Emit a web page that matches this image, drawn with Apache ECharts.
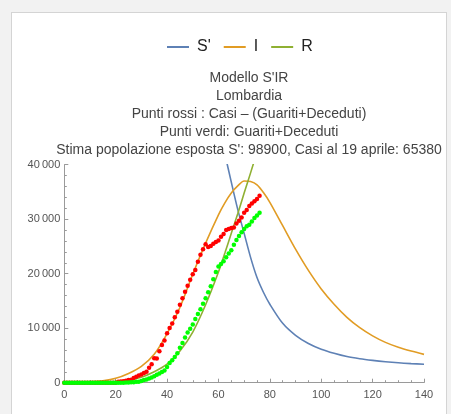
<!DOCTYPE html>
<html>
<head>
<meta charset="utf-8">
<script src="https://cdn.jsdelivr.net/npm/echarts@6/dist/echarts.min.js"></script>
<style>
html,body{margin:0;padding:0;background:#f2f2f2;width:451px;height:414px;overflow:hidden;}
#panel{position:absolute;left:11px;top:12px;width:436px;height:420px;background:#fff;border:1px solid #d4d4d4;box-sizing:border-box;}
#chart{position:absolute;left:0;top:0;width:451px;height:414px;}
</style>
</head>
<body>
<div id="panel"></div>
<div id="chart"></div>
<script>
// Model curves, t in days
const curveDays = [0,5,10,15,20,25,30,35,40,45,50,55,60,62.5,65,67.5,70,72.5,75,77.5,80,85,90,95,100,105,110,115,120,125,130,135,140];
const sValues = [98800,98700,98500,98200,97600,96400,94500,91500,86700,80000,71200,60500,47500,42000,36800,31800,27400,23000,19300,16600,14400,10900,8700,7200,6150,5400,4800,4400,4100,3850,3650,3500,3380];
const iValues = [20,60,150,350,800,1700,3000,5200,9000,13800,19900,25600,30800,33000,34800,36100,37000,36900,36300,34900,33100,28800,24500,20600,17200,14400,12000,10100,8600,7400,6500,5800,5200];
const rValues = [0,10,30,80,200,450,1000,2000,3400,5800,9300,14300,20300,23800,27400,31000,34800,38500,42300,46000,49500,57000,63500,69500,74500,78700,82000,84500,86200,87650,88750,89600,90300];

// Observed points, days 0..76
const pointDays = Array.from({length: 77}, (_, k) => k);
const redValues = [0,0,0,0,0,0,0,0,0,0,0,0,0,0,0,0,0,0,0,0,0,
  166,231,249,349,474,552,880,1077,1326,1497,1777,2008,2742,3372,4490,4427,5763,6896,7732,9059,
  10043,10861,12000,13000,14300,15500,16700,17800,18900,19900,20700,22200,23500,24500,25400,
  24900,25100,25500,25800,26100,26800,27300,28000,28200,28400,28500,29200,29700,30300,31200,
  31700,32400,32900,33300,33700,34300];
const greenValues = [0,0,0,0,0,0,0,0,0,0,0,0,0,0,0,0,0,0,0,0,0,
  6,9,9,54,57,63,104,177,194,323,474,604,750,950,1200,1450,1700,1950,2250,2900,
  3600,4100,4700,5400,6400,7300,8300,9200,9900,10700,11700,12600,13500,14500,15500,
  16600,17700,19000,20300,21300,21800,22300,23000,23700,24300,25300,26200,26900,27600,28200,
  28700,29000,29600,30200,30700,31200];

const xTicks = [0,20,40,60,80,100,120,140];
const yTicks = [0,10000,20000,30000,40000];
const titleLines = ["Modello S'IR","Lombardia","Punti rossi : Casi \u2013 (Guariti+Deceduti)","Punti verdi: Guariti+Deceduti","Stima popolazione esposta S': 98900, Casi al 19 aprile: 65380"];
const legendNames = ["S'","I","R"];

const pair = (xs, ys) => xs.map((x, k) => [x, ys[k]]);
const fmt = v => v >= 10000 ? String(v).replace(/(\d)(?=(\d{3})+$)/, '$1\u2009') : String(v);

const axisGray = '#9a9a9a';
const font = 'Liberation Sans, Arial, sans-serif';
const chart = echarts.init(document.getElementById('chart'), null, {renderer: 'canvas'});
chart.setOption({
  backgroundColor: 'transparent',
  animation: false,
  textStyle: {fontFamily: font},
  title: {
    text: titleLines.join('\n'),
    left: 244, top: 64, textAlign: 'center',
    textStyle: {fontSize: 14, fontWeight: 'normal', color: '#444', lineHeight: 18, fontFamily: font}
  },
  legend: {
    data: legendNames,
    top: 34, left: 162,
    itemWidth: 22, itemHeight: 2, itemGap: 13,
    icon: 'rect',
    textStyle: {fontSize: 16, color: '#222', fontFamily: font, padding: [0, 0, 0, 3]}
  },
  grid: {left: 64.3, right: 27, top: 164.7, bottom: 31.3, containLabel: false},
  xAxis: {
    type: 'value', min: 0, max: 140, interval: 20,
    axisLine: {lineStyle: {color: axisGray, width: 1}},
    axisTick: {inside: true, length: 4, lineStyle: {color: axisGray}},
    minorTick: {show: true, splitNumber: 4, length: 2.5, lineStyle: {color: axisGray}},
    splitLine: {show: false},
    axisLabel: {color: '#555', fontSize: 11, margin: 7, formatter: v => xTicks.includes(v) ? String(v) : ''}
  },
  yAxis: {
    type: 'value', min: 0, max: 40000, interval: 10000,
    axisLine: {show: true, lineStyle: {color: axisGray, width: 1}},
    axisTick: {show: true, inside: true, length: 4, lineStyle: {color: axisGray}},
    minorTick: {show: true, splitNumber: 5, length: 2.5, lineStyle: {color: axisGray}},
    splitLine: {show: false},
    axisLabel: {color: '#555', fontSize: 11, margin: 4, formatter: v => yTicks.includes(v) ? fmt(v) : ''}
  },
  series: [
    {name: "S'", type: 'line', data: pair(curveDays, sValues), smooth: 0.3, showSymbol: false, symbol: 'none', clip: true,
      lineStyle: {color: '#5E81B5', width: 1.6}, itemStyle: {color: '#5E81B5'}, z: 3},
    {name: 'I', type: 'line', data: pair(curveDays, iValues), smooth: 0.3, showSymbol: false, symbol: 'none', clip: true,
      lineStyle: {color: '#E19C24', width: 1.6}, itemStyle: {color: '#E19C24'}, z: 3},
    {name: 'R', type: 'line', data: pair(curveDays, rValues), smooth: 0.3, showSymbol: false, symbol: 'none', clip: true,
      lineStyle: {color: '#8FB032', width: 1.6}, itemStyle: {color: '#8FB032'}, z: 3},
    {name: 'rossi', type: 'scatter', data: pair(pointDays, redValues), symbolSize: 4.5, clip: true,
      itemStyle: {color: '#ff0000', opacity: 1}, z: 4},
    {name: 'verdi', type: 'scatter', data: pair(pointDays, greenValues), symbolSize: 4.5, clip: true,
      itemStyle: {color: '#00ff00', opacity: 1}, z: 5}
  ]
});
</script>
</body>
</html>
